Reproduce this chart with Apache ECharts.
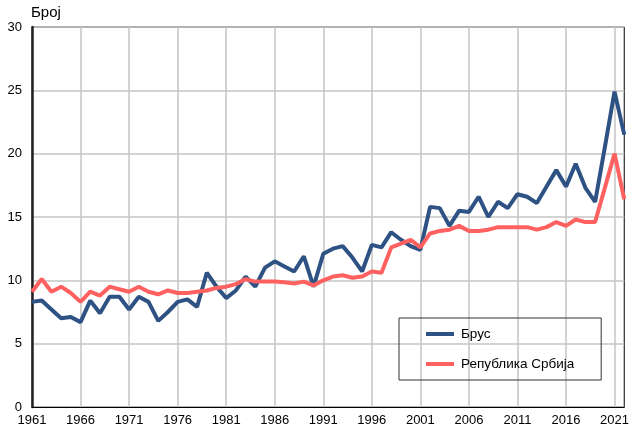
<!DOCTYPE html>
<html>
<head>
<meta charset="utf-8">
<script src="https://cdn.jsdelivr.net/npm/echarts@6/dist/echarts.min.js"></script>
<style>
	html, body { margin: 0; padding: 0; background: #fff; }
	#chart { width: 632px; height: 430px; }
</style>
</head>
<body>
<div id="chart"></div>
<script>
const years = []
for (let y = 1961; y <= 2022; y++) years.push(String(y))

// Брус
const brus = [
	8.3, 8.4, 7.7, 7.0, 7.1, 6.7, 8.4, 7.4, 8.7, 8.7,
	7.7, 8.7, 8.3, 6.8, 7.5, 8.3, 8.5, 7.9, 10.6, 9.5,
	8.6, 9.2, 10.3, 9.5, 11.0, 11.5, 11.1, 10.7, 11.9, 9.5,
	12.1, 12.5, 12.7, 11.8, 10.7, 12.8, 12.6, 13.8, 13.2, 12.7,
	12.4, 15.8, 15.7, 14.3, 15.5, 15.4, 16.6, 15.0, 16.2, 15.7,
	16.8, 16.6, 16.1, 17.4, 18.7, 17.4, 19.2, 17.3, 16.2, 20.5,
	24.9, 21.5
]

// Република Србија
const srbija = [
	9.1, 10.1, 9.1, 9.5, 9.0, 8.3, 9.1, 8.8, 9.5, 9.3,
	9.1, 9.5, 9.1, 8.9, 9.2, 9.0, 9.0, 9.1, 9.2, 9.4,
	9.5, 9.7, 10.1, 9.9, 9.9, 9.9, 9.85, 9.75, 9.9, 9.6,
	10.0, 10.3, 10.4, 10.2, 10.3, 10.7, 10.6, 12.6, 12.9, 13.2,
	12.6, 13.7, 13.9, 14.0, 14.3, 13.9, 13.9, 14.0, 14.2, 14.2,
	14.2, 14.2, 14.0, 14.2, 14.6, 14.3, 14.8, 14.6, 14.6, 17.3,
	20.0, 16.4
]

const yTicks = { min: 0, max: 30, interval: 5 }

const font = "Liberation Sans, Arial, sans-serif"
const chart = echarts.init(document.getElementById("chart"))

chart.setOption({
	animation: false,
	textStyle: { fontFamily: font },
	title: {
		text: "Број",
		left: 31,
		top: 5,
		padding: 0,
		textStyle: { fontSize: 15, fontWeight: "normal", color: "#000", fontFamily: font }
	},
	grid: {
		left: 32,
		right: 5,
		top: 27,
		bottom: 23,
		show: true,
		borderColor: "#000",
		borderWidth: 1
	},
	legend: {
		orient: "vertical",
		left: 399,
		top: 318,
		padding: [9, 27, 9, 27],
		itemGap: 16,
		itemWidth: 28,
		itemHeight: 4,
		icon: "rect",
		borderColor: "#333",
		borderWidth: 1,
		textStyle: { fontSize: 13.5, color: "#000", fontFamily: font, padding: [0, 0, 0, 2] },
		data: ["Брус", "Република Србија"]
	},
	xAxis: {
		type: "category",
		boundaryGap: false,
		data: years,
		axisTick: { show: false },
		axisLine: { lineStyle: { color: "#000", width: 1 } },
		axisLabel: { interval: 4, color: "#000", fontSize: 13, margin: 7, fontFamily: font },
		splitLine: { show: true, interval: 4, lineStyle: { color: "#c4c4c4", width: 1.5 } }
	},
	yAxis: {
		type: "value",
		min: yTicks.min,
		max: yTicks.max,
		interval: yTicks.interval,
		axisTick: { show: false },
		axisLine: { show: true, lineStyle: { color: "#222", width: 2.5 } },
		axisLabel: { color: "#000", fontSize: 13, margin: 10, fontFamily: font },
		splitLine: { lineStyle: { color: "#c4c4c4", width: 1.5 } }
	},
	series: [
		{
			name: "Брус",
			type: "line",
			data: brus,
			showSymbol: false,
			color: "#2e5283",
			lineStyle: { color: "#2e5283", width: 4 }
		},
		{
			name: "Република Србија",
			type: "line",
			data: srbija,
			showSymbol: false,
			color: "#ff6161",
			lineStyle: { color: "#ff6161", width: 4 }
		}
	]
})
</script>
</body>
</html>
